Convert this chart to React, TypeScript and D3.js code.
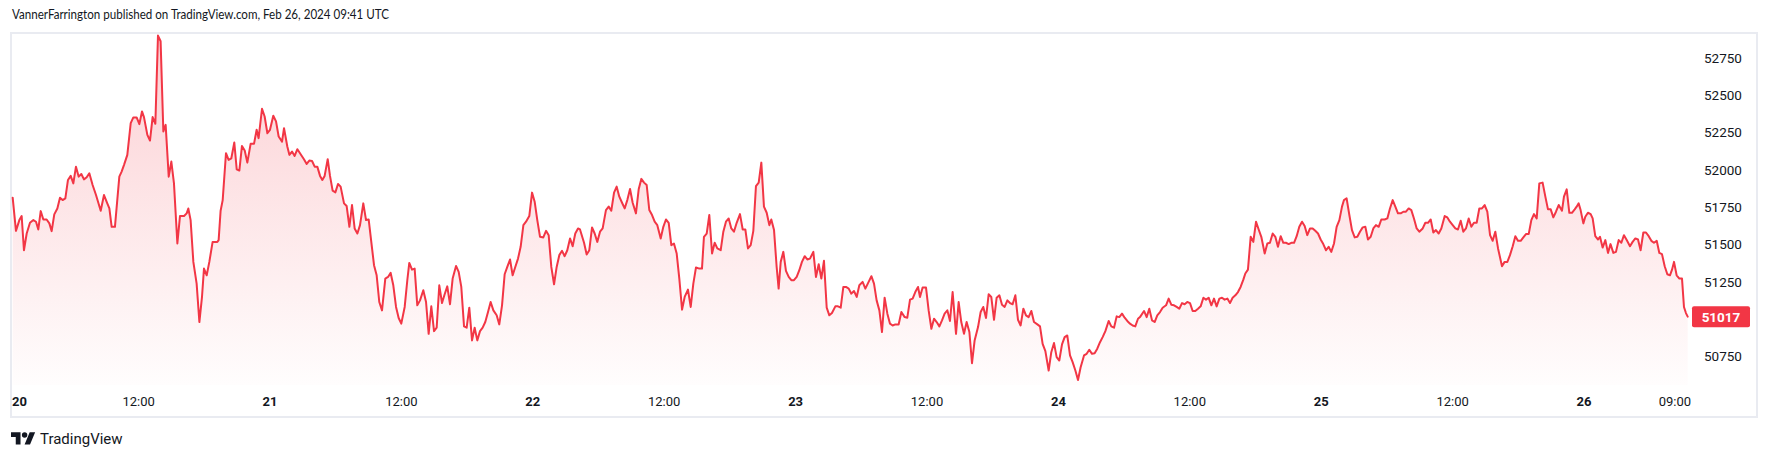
import React from 'react';
import * as d3 from 'd3';

const W = 1769;
const H = 459;

// hours since 2024-02-20 00:00 UTC
const hours = [
  0.5, 0.8, 1.11, 1.32, 1.53, 1.78, 2.08, 2.39, 2.63, 2.84, 3.06, 3.3, 3.6, 3.85, 4.06, 4.3, 4.58, 4.82, 5.06, 5.31,
  5.55, 5.8, 6.04, 6.28, 6.53, 6.77, 7.01, 7.26, 7.5, 7.8, 8.11, 8.54, 8.84, 9.14, 9.33, 9.54, 9.84, 10.24, 10.45, 10.67,
  10.97, 11.28, 11.52, 11.82, 12.07, 12.31, 12.49, 12.8, 13.04, 13.28, 13.53, 13.77, 14.01, 14.26, 14.47, 14.75, 14.99, 15.23, 15.54, 15.78,
  16.15, 16.39, 16.54, 16.75, 17.0, 17.3, 17.55, 17.79, 17.97, 18.22, 18.46, 18.76, 19.19, 19.31, 19.49, 19.68, 19.98, 20.22, 20.47, 20.74,
  20.96, 21.2, 21.44, 21.69, 21.93, 22.23, 22.54, 22.78, 22.96, 23.27, 23.51, 23.76, 24.0, 24.3, 24.55, 24.79, 25.1, 25.28, 25.58, 25.77,
  26.01, 26.25, 26.5, 26.74,
  27.1, 27.35, 27.59, 27.84, 28.08, 28.32, 28.57, 28.78, 28.99, 29.27, 29.48, 29.72, 29.97, 30.21, 30.45, 30.76, 31.0, 31.25, 31.49, 31.73,
  31.98, 32.22, 32.52, 32.77, 33.01, 33.5, 33.74, 33.98, 34.23, 34.53, 34.78, 35.02, 35.26, 35.51, 35.75, 35.99, 36.3, 36.54, 36.72, 36.97,
  37.21, 37.45, 37.7, 38.0, 38.25, 38.49, 38.73, 38.98, 39.22, 39.46, 39.71, 39.95, 40.19, 40.44, 40.68, 40.99, 41.23, 41.47, 41.72, 41.96,
  42.2, 42.45, 42.69, 42.93, 43.18, 43.42, 43.66, 43.91, 44.15, 44.4, 44.7, 44.94, 45.19, 45.43, 45.67, 45.92, 46.16, 46.4, 46.65, 46.89,
  47.14, 47.38, 47.68, 47.93, 48.17, 48.41, 48.66, 48.96, 49.21, 49.45, 49.69, 49.94, 50.18, 50.42, 50.67, 50.91, 51.15, 51.4, 51.64, 51.88,
  52.13, 52.31,
  52.68, 52.92, 53.16, 53.41, 53.65, 53.89, 54.14, 54.38, 54.68, 54.93, 55.17, 55.42, 55.66, 55.9, 56.15, 56.39, 56.63, 56.88, 57.12, 57.42,
  57.67, 57.91, 58.16, 58.4, 58.64, 58.89, 59.13, 59.37, 59.68, 59.92, 60.16, 60.41, 60.65, 60.89, 61.14, 61.38, 61.63, 61.87, 62.17, 62.42,
  62.66, 62.9, 63.21, 63.45, 63.63, 63.88, 64.12, 64.37, 64.61, 64.85, 65.16, 65.4, 65.64, 65.89, 66.13, 66.37, 66.62, 66.92, 67.17, 67.41,
  67.65, 67.9, 68.14, 68.38, 68.63, 68.87, 69.11, 69.36, 69.6, 69.78, 70.03, 70.27, 70.45, 70.64, 70.88, 71.12, 71.37, 71.61, 71.85, 72.1,
  72.34, 72.58, 72.83, 73.07, 73.31, 73.62, 73.86, 74.11, 74.35, 74.59, 74.84, 75.08, 75.32, 75.63, 75.87, 76.12, 76.36, 76.6, 76.85, 77.09,
  77.33, 77.58, 77.82,
  78.12, 78.37, 78.67, 78.92, 79.16, 79.4, 79.65, 79.89, 80.13, 80.38, 80.62, 80.86, 81.11, 81.41, 81.66, 81.96, 82.2, 82.45, 82.69, 82.93,
  83.18, 83.36, 83.6, 83.91, 84.15, 84.4, 84.64, 84.88, 85.13, 85.37, 85.61, 85.86, 86.1, 86.34, 86.65, 86.89, 87.13, 87.38, 87.62, 87.87,
  88.11, 88.35, 88.66, 88.9, 89.14, 89.39, 89.63, 89.87, 90.12, 90.36, 90.61, 90.85, 91.09, 91.34, 91.58, 91.82, 92.07, 92.31, 92.55, 92.8,
  93.04, 93.28, 93.53, 93.77, 94.08, 94.32, 94.56, 94.81, 95.11, 95.35, 95.6, 95.84, 96.08, 96.33, 96.57, 96.81, 97.06, 97.3, 97.55, 97.79,
  98.03, 98.34, 98.58, 98.82, 99.07, 99.31, 99.55, 99.8, 100.04, 100.29, 100.59, 100.83, 101.08, 101.32, 101.56, 101.81, 102.05, 102.29, 102.54, 102.78,
  103.02, 103.27, 103.45,
  103.82, 104.06, 104.3, 104.55, 104.79, 105.03, 105.28, 105.52, 105.83, 106.07, 106.31, 106.56, 106.8, 107.04, 107.29, 107.53, 107.77, 108.02, 108.26, 108.5,
  108.75, 108.99, 109.24, 109.48, 109.72, 109.97, 110.21, 110.45, 110.7, 110.94, 111.18, 111.43, 111.67, 111.91, 112.16, 112.4, 112.64, 112.89, 113.07, 113.31,
  113.56, 113.8, 114.05, 114.29, 114.53, 114.84, 115.08, 115.32, 115.57, 115.81, 116.05, 116.3, 116.54, 116.78, 117.03, 117.27, 117.52, 117.76, 118.0, 118.25,
  118.49, 118.73, 118.98, 119.22, 119.46, 119.71, 119.95, 120.19, 120.44, 120.68, 120.92, 121.17, 121.41, 121.66, 121.9, 122.08, 122.32, 122.57, 122.81, 123.06,
  123.3, 123.54, 123.79, 124.03, 124.27, 124.52, 124.76, 125.0, 125.25, 125.49, 125.8, 126.04, 126.28, 126.53, 126.77, 127.01, 127.26, 127.5, 127.74, 127.99,
  128.23, 128.47, 128.72, 128.96,
  129.27, 129.51, 129.75, 130.0, 130.24, 130.48, 130.73, 130.97, 131.28, 131.52, 131.76, 132.01, 132.25, 132.49, 132.74, 132.98, 133.22, 133.47, 133.71, 133.95,
  134.2, 134.44, 134.68, 134.93, 135.17, 135.42, 135.66, 135.9, 136.15, 136.51, 136.75, 137.0, 137.24, 137.49, 137.73, 137.97, 138.22, 138.46, 138.7, 138.95,
  139.19, 139.43, 139.68, 139.92, 140.22, 140.47, 140.71, 140.96, 141.2, 141.44, 141.69, 141.99, 142.17, 142.42, 142.66, 142.9, 143.15, 143.33, 143.51, 143.69,
  143.94, 144.12, 144.36, 144.61, 144.79, 145.03, 145.28, 145.46, 145.7, 145.95, 146.19, 146.42, 146.68, 146.92, 147.17, 147.41, 147.65, 147.9, 148.2, 148.44,
  148.69, 148.93, 149.17, 149.42, 149.66, 149.91, 150.15, 150.39, 150.64, 150.88, 151.12, 151.37, 151.61, 151.85, 152.04, 152.22, 152.46, 152.71, 152.95, 153.13,
  153.31, 153.47,
];

const prices = [
  51814, 51592, 51664, 51691, 51462, 51574, 51646, 51664, 51653, 51601, 51724, 51668, 51668, 51642, 51590, 51702, 51742, 51814, 51798, 51810,
  51933, 51960, 51910, 52022, 51955, 51973, 51937, 51951, 51978, 51899, 51832, 51727, 51832, 51776, 51742, 51619, 51619, 51955, 51989, 52034,
  52101, 52314, 52352, 52352, 52307, 52392, 52354, 52235, 52197, 52354, 52309, 52900, 52862, 52258, 52302, 51955, 52056, 51910, 51507, 51691,
  51691, 51709, 51742, 51664, 51384, 51238, 50981, 51149, 51339, 51294, 51384, 51518, 51518, 51530, 51727, 51798, 52112, 52067, 52078, 52184,
  52004, 51996, 52161, 52130, 52049, 52175, 52175, 52269, 52213, 52410, 52358, 52246, 52269, 52363, 52325, 52224, 52190, 52280, 52157, 52101,
  52123, 52094, 52139, 52112,
  52072, 52040, 52063, 52060, 52022, 52022, 51960, 51933, 51960, 52072, 51960, 51861, 51850, 51906, 51888, 51776, 51758, 51619, 51765, 51608,
  51574, 51630, 51776, 51664, 51668, 51362, 51294, 51115, 51059, 51272, 51283, 51310, 51227, 51082, 51008, 50970, 51082, 51261, 51377, 51332,
  51339, 51093, 51126, 51194, 51115, 50902, 51086, 50920, 50943, 51227, 51108, 51167, 51220, 51100, 51272, 51357, 51317, 51216, 50952, 50943,
  51077, 50858, 50943, 50858, 50920, 50943, 50981, 51048, 51115, 51059, 51026, 50965, 51093, 51301, 51350, 51400, 51294, 51350, 51406, 51485,
  51630, 51653, 51691, 51848, 51787, 51664, 51552, 51548, 51592, 51563, 51350, 51234, 51350, 51429, 51458, 51422, 51462, 51541, 51489, 51574,
  51608, 51601,
  51512, 51433, 51462, 51615, 51574, 51518, 51586, 51608, 51731, 51754, 51727, 51848, 51888, 51821, 51780, 51742, 51798, 51872, 51780, 51709,
  51870, 51940, 51915, 51899, 51731, 51698, 51653, 51630, 51541, 51619, 51668, 51646, 51496, 51507, 51440, 51272, 51064, 51149, 51198, 51082,
  51238, 51346, 51339, 51339, 51552, 51574, 51698, 51440, 51512, 51474, 51462, 51586, 51653, 51675, 51608, 51586, 51646, 51704, 51601, 51601,
  51474, 51496, 51592, 51892, 51915, 52049, 51754, 51713, 51630, 51668, 51597, 51350, 51205, 51384, 51451, 51324, 51283, 51261, 51261, 51283,
  51328, 51384, 51422, 51400, 51406, 51451, 51283, 51368, 51272, 51391, 51077, 51026, 51041, 51086, 51086, 51077, 51216, 51216, 51205, 51171,
  51189, 51149, 51227,
  51250, 51205, 51250, 51288, 51238, 51126, 51059, 50914, 51144, 51037, 50970, 50958, 50965, 50965, 51048, 51014, 51010, 51131, 51138, 51182,
  51216, 51149, 51212, 51212, 51059, 50936, 51003, 50981, 50952, 50992, 51037, 51059, 50988, 51182, 50902, 51115, 50981, 50902, 50981, 50914,
  50705, 50858, 50947, 51048, 51082, 51008, 51167, 51149, 50996, 51144, 51160, 51097, 51082, 51126, 51108, 51100, 51160, 50996, 50958, 51070,
  51026, 51014, 51055, 50981, 50965, 50952, 50835, 50786, 50656, 50779, 50840, 50746, 50723, 50831, 50880, 50891, 50757, 50712, 50656, 50593,
  50678, 50757, 50768, 50795, 50768, 50772, 50802, 50846, 50880, 50920, 50988, 50952, 50943, 51019, 51014, 51037, 51010, 50988, 50970, 50958,
  50952, 51003, 51014,
  51055, 51014, 51070, 50992, 50981, 51026, 51048, 51077, 51093, 51138, 51097, 51093, 51082, 51070, 51108, 51100, 51115, 51108, 51055, 51055,
  51070, 51086, 51144, 51131, 51144, 51093, 51138, 51086, 51138, 51144, 51131, 51138, 51108, 51144, 51160, 51182, 51216, 51265, 51306, 51332,
  51552, 51518, 51653, 51601, 51552, 51440, 51507, 51512, 51574, 51552, 51485, 51556, 51512, 51512, 51503, 51512, 51512, 51556, 51619, 51653,
  51624, 51563, 51608, 51608, 51592, 51574, 51534, 51503, 51462, 51485, 51451, 51507, 51619, 51664, 51754, 51798, 51810, 51698, 51597, 51548,
  51552, 51586, 51615, 51619, 51534, 51552, 51608, 51630, 51619, 51668, 51668, 51675, 51742, 51798, 51754, 51709, 51709, 51720, 51720, 51742,
  51731, 51675, 51608, 51586,
  51608, 51646, 51646, 51668, 51581, 51597, 51574, 51608, 51691, 51682, 51653, 51630, 51608, 51601, 51660, 51586, 51608, 51675, 51619, 51646,
  51646, 51742, 51742, 51765, 51720, 51563, 51525, 51586, 51474, 51355, 51384, 51384, 51429, 51489, 51556, 51525, 51525, 51548, 51570, 51570,
  51664, 51704, 51675, 51910, 51915, 51821, 51736, 51736, 51682, 51720, 51765, 51727, 51821, 51870, 51713, 51713, 51736, 51754, 51776, 51731,
  51642, 51686, 51713, 51704, 51675, 51556, 51534, 51552, 51480, 51530, 51444, 51503, 51444, 51451, 51530, 51512, 51563, 51530, 51489, 51518,
  51541, 51534, 51462, 51581, 51581, 51556, 51525, 51512, 51525, 51444, 51436, 51355, 51301, 51294, 51332, 51384, 51294, 51272, 51272, 51082,
  51041, 51017,
];

const priceTicks = [52750, 52500, 52250, 52000, 51750, 51500, 51250, 50750];
const timeTickHours = [0, 12, 24, 36, 48, 60, 72, 84, 96, 108, 120, 132, 144, 153];
const timeTickLabels = ['20', '12:00', '21', '12:00', '22', '12:00', '23', '12:00', '24', '12:00', '25', '12:00', '26', '09:00'];
const timeTickIsDay = [true, false, true, false, true, false, true, false, true, false, true, false, true, false];

const headerText = 'VannerFarrington published on TradingView.com, Feb 26, 2024 09:41 UTC';
const RED = '#f23645';
const TEXT = '#131722';
const FONT = 'Roboto, "Noto Sans", sans-serif';
const HEADER_FONT = 'Lato, Roboto, sans-serif';

const frame = { left: 11, top: 33, right: 1757, bottom: 417 };
const plotBottom = 385;
const plotRight = 1691;

export default function App() {
  const t0 = Date.UTC(2024, 1, 20, 0, 0);
  const toDate = (h: number) => new Date(t0 + h * 3600000);
  const x = d3.scaleUtc()
    .domain([toDate(24), toDate(144)])
    .range([270, 1584]);
  const y = d3.scaleLinear().domain([50750, 52750]).range([356.5, 58]);

  const data = hours.map((h, i) => ({ d: toDate(h), p: prices[i] }));
  const line = d3.line<{ d: Date; p: number }>().x(v => x(v.d)).y(v => y(v.p));
  const area = d3.area<{ d: Date; p: number }>().x(v => x(v.d)).y0(plotBottom).y1(v => y(v.p));

  const last = data[data.length - 1];
  const lastY = y(last.p);

  return (
    <svg width={W} height={H} style={{ position: 'absolute', left: 0, top: 0, background: '#fff' }}
      fontFamily={FONT}>
      <defs>
        <linearGradient id="fillGrad" gradientUnits="userSpaceOnUse" x1="0" y1={frame.top} x2="0" y2={plotBottom}>
          <stop offset="0" stopColor={RED} stopOpacity={0.24} />
          <stop offset="1" stopColor={RED} stopOpacity={0.01} />
        </linearGradient>
        <clipPath id="plotClip">
          <rect x={frame.left} y={frame.top} width={plotRight - frame.left} height={plotBottom - frame.top} />
        </clipPath>
      </defs>
      <rect x={0} y={0} width={W} height={H} fill="#fff" />
      <text x={12} y={18.5} fontSize={13.5} fill={TEXT} fontFamily={HEADER_FONT}
        textLength={377} lengthAdjust="spacingAndGlyphs">{headerText}</text>
      <rect x={frame.left} y={frame.top} width={frame.right - frame.left} height={frame.bottom - frame.top}
        fill="#fff" stroke="#e9ebf1" strokeWidth={2} />
      <g clipPath="url(#plotClip)">
        <path d={area(data) || ''} fill="url(#fillGrad)" />
        <path d={line(data) || ''} fill="none" stroke={RED} strokeWidth={2} strokeLinejoin="round" strokeLinecap="round" />
      </g>
      {priceTicks.map(p => (
        <text key={p} x={1704} y={y(p)} dy="0.35em" fontSize={13.5} fill={TEXT}>{p}</text>
      ))}
      <rect x={1692} y={lastY - 10.5} width={58} height={21} rx={2} fill={RED} />
      <text x={1721} y={lastY} dy="0.36em" fontSize={13.5} fontWeight="bold" fill="#fff" textAnchor="middle">{last.p}</text>
      {timeTickHours.map((h, i) => {
        const px = x(toDate(h));
        const lbl = timeTickLabels[i];
        let anchor: 'start' | 'middle' | 'end' = 'middle';
        let tx = px;
        const half = lbl.length * 3.6;
        if (px - half < frame.left + 1) { anchor = 'start'; tx = frame.left + 1; }
        else if (px + half > plotRight) { anchor = 'end'; tx = plotRight; }
        return (
          <text key={i} x={tx} y={401} dy="0.35em" fontSize={13} textAnchor={anchor}
            fontWeight={timeTickIsDay[i] ? 'bold' : 'normal'} fill={TEXT}>{lbl}</text>
        );
      })}
      <g transform="translate(11,429.5) scale(0.68)">
        <path d="M14 22H7V11H0V4h14v18zM28 22h-8l7.5-18h8L28 22z" fill={TEXT} />
        <circle cx={20} cy={8} r={4} fill={TEXT} />
      </g>
      <text x={40} y={443.5} fontSize={15} fill={TEXT}>TradingView</text>
    </svg>
  );
}
